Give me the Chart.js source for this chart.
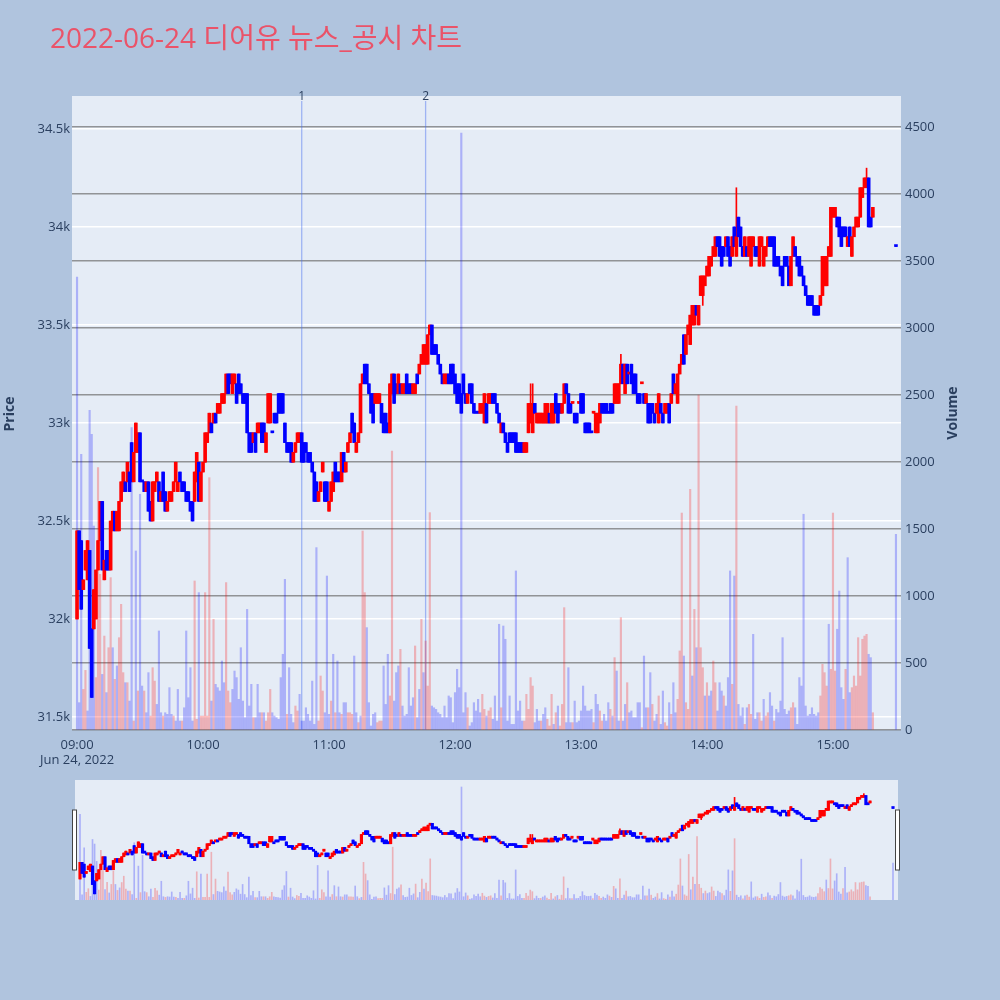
<!DOCTYPE html>
<html>
<head>
<meta charset="utf-8">
<script src="https://cdn.jsdelivr.net/npm/chart.js@4.4.0/dist/chart.umd.min.js"></script>
<style>
html, body { margin: 0; padding: 0; background: #b0c4de; }
#wrap { position: relative; width: 1000px; height: 1000px; }
#main { position: absolute; left: 0; top: 0; }
#slider { position: absolute; left: 0; top: 770px; }
</style>
</head>
<body>
<div id="wrap">
  <canvas id="main" width="1000" height="1000"></canvas>
  <canvas id="slider" width="1000" height="140"></canvas>
</div>
<script>
// 1-minute candles from 09:00, last entry is the 15:30 closing auction
const opens = [
  32000,32450,32400,32150,32250,32200,32350,31950,31950,32000,
  32250,32400,32600,32200,32350,32350,32250,32450,32550,32450,
  32450,32600,32650,32700,32700,32750,32900,32700,32850,32850,
  32950,32700,32700,32650,32700,32600,32500,32650,32700,32700,
  32600,32750,32650,32550,32600,32600,32650,32700,32650,32750,
  32700,32700,32650,32650,32600,32600,32600,32700,32800,32600,
  32750,32800,32900,32950,33000,33000,33050,33050,33050,33100,
  33100,33150,33250,33250,33150,33200,33200,33250,33200,33150,
  33150,33150,32950,32950,32900,32950,32950,32950,33000,33000,
  32850,33000,33000,32950,33050,33050,33150,33150,33150,33000,
  32900,32900,32900,32800,32850,32900,32900,32950,32900,32900,
  32850,32850,32800,32750,32700,32600,32650,32750,32700,32700,
  32550,32600,32650,32800,32750,32750,32700,32850,32750,32850,
  32900,33050,33000,32850,32900,32950,33200,33300,33300,33200,
  33150,33150,33100,33100,33100,33100,33050,33050,33000,32950,
  33150,33250,33200,33150,33200,33150,33150,33250,33200,33200,
  33150,33150,33250,33250,33300,33300,33300,33300,33450,33500,
  33400,33400,33350,33300,33250,33200,33200,33250,33300,33300,
  33250,33200,33200,33150,33250,33150,33100,33200,33200,33100,
  33050,33050,33050,33050,33000,33100,33100,33100,33150,33150,
  33100,33050,32950,33000,32950,32900,32950,32950,32950,32950,
  32900,32900,32900,32850,32850,32950,33000,32950,33100,33000,
  33000,33000,33000,33000,33000,33050,33000,33000,33150,33100,
  33100,33050,33100,33200,33150,33100,33100,33050,33050,33100,
  33150,33150,33000,33000,33000,32950,33050,32950,32950,33000,
  33100,33100,33100,33050,33100,33100,33100,33100,33100,33200,
  33300,33150,33300,33250,33300,33250,33250,33150,33150,33200,
  33150,33100,33100,33100,33100,33050,33050,33000,33100,33050,
  33050,33050,33100,33100,33250,33150,33100,33250,33300,33450,
  33350,33450,33400,33500,33500,33600,33500,33650,33650,33700,
  33750,33750,33800,33850,33850,33950,33950,33900,33900,33900,
  33950,33900,33850,34000,33850,34050,34000,33900,33850,33900,
  33850,33800,33900,33900,33900,33800,33900,33800,33850,33900,
  33950,33950,33950,33850,33850,33800,33800,33850,33850,33800,
  33700,33850,33900,33850,33850,33800,33750,33700,33650,33650,
  33650,33600,33600,33600,33600,33650,33700,33700,33850,33850,
  34050,34050,34050,34050,34000,34000,34000,33900,34000,33850,
  33950,34000,34000,34050,34150,34200,34200,34250,34050,34050,
  33900
];
const closes = [
  32450,32150,32050,32200,32350,32400,31850,31600,32150,32250,
  32400,32600,32250,32300,32250,32250,32500,32550,32450,32550,
  32600,32700,32750,32650,32800,32650,32700,32850,33000,32950,
  32700,32700,32650,32700,32550,32500,32700,32700,32750,32600,
  32650,32600,32550,32600,32650,32650,32700,32800,32700,32700,
  32650,32650,32600,32600,32550,32500,32750,32850,32600,32750,
  32800,32950,32950,33050,32950,33050,33000,33100,33100,33150,
  33150,33250,33150,33200,33250,33250,33100,33150,33150,33100,
  33100,32950,32850,32850,32950,32850,33000,33000,32900,32900,
  32950,33150,33150,32950,33000,33000,33050,33050,33050,32900,
  32850,32850,32800,32850,32900,32950,32950,32800,32800,32850,
  32800,32800,32750,32600,32600,32650,32700,32800,32600,32600,
  32600,32700,32750,32700,32700,32700,32850,32750,32800,32900,
  32950,32950,32900,32900,32950,33200,33250,33200,33200,33150,
  33050,33000,33150,33150,33150,33000,32950,32950,32950,33200,
  33250,33100,33150,33250,33150,33200,33200,33150,33150,33150,
  33200,33200,33200,33300,33350,33400,33400,33450,33500,33350,
  33350,33350,33300,33250,33200,33250,33250,33200,33200,33200,
  33150,33100,33100,33050,33150,33100,33150,33150,33100,33050,
  33050,33050,33100,33100,33150,33000,33150,33150,33100,33100,
  33050,33000,33000,32950,32900,32850,32900,32900,32900,32850,
  32850,32850,32850,32900,32900,33100,33100,33100,33050,33050,
  33050,33050,33050,33100,33100,33000,33100,33100,33050,33000,
  33050,33100,33200,33150,33050,33050,33100,33000,33000,33100,
  33050,33050,32950,32950,32950,32950,33050,33050,33050,33100,
  33050,33050,33050,33050,33050,33050,33200,33200,33200,33300,
  33200,33300,33200,33250,33200,33150,33150,33100,33100,33200,
  33100,33150,33000,33000,33050,33000,33100,33150,33050,33000,
  33100,33100,33000,33150,33150,33200,33250,33300,33350,33300,
  33450,33500,33550,33600,33600,33550,33600,33750,33750,33750,
  33800,33850,33850,33900,33950,33900,33850,33800,33850,33950,
  33850,33800,33950,33900,33950,33950,33900,33850,33950,33850,
  33950,33950,33950,33850,33850,33950,33950,33900,33900,33950,
  33900,33900,33800,33800,33800,33750,33700,33800,33800,33700,
  33850,33950,33850,33800,33750,33750,33700,33650,33600,33600,
  33600,33550,33550,33550,33650,33850,33850,33850,33900,34100,
  34100,34100,34000,33950,33900,33950,33950,33950,33900,33950,
  34000,34050,34050,34200,34200,34250,34250,34000,34000,34100,
  33900
];
// wicks that stick out of the body (index -> price)
const wickHighs = { 216: 33200, 217: 33200, 259: 33350, 314: 34200, 376: 34300 };
const wickLows = { 298: 33600 };

const volumes = [
  3380,204,2057,303,445,142,2386,2206,1522,391,
  1958,1162,415,701,279,614,1137,614,378,478,
  689,938,428,353,353,216,2256,67,1336,291,
  1759,328,291,129,428,104,465,365,191,739,
  129,104,129,117,316,117,104,67,303,67,
  67,166,739,241,465,67,1112,80,1025,104,
  104,1025,104,1883,216,826,341,316,291,515,
  353,1100,291,204,303,440,391,229,614,216,
  92,900,179,341,92,92,341,129,129,129,
  67,129,303,129,104,92,80,391,565,1124,
  117,465,117,55,179,142,266,67,67,166,
  117,67,365,42,1361,67,403,291,129,1149,
  117,216,565,129,515,129,117,204,204,129,
  129,117,552,129,55,104,1485,1025,764,204,
  30,117,129,55,67,67,478,191,565,254,
  2082,216,428,478,602,179,104,117,465,179,
  241,627,92,303,826,428,664,328,1622,179,
  166,154,129,117,92,179,92,254,241,55,
  279,453,316,4455,129,279,166,30,55,204,
  142,229,129,266,154,104,142,166,80,254,
  67,789,166,776,677,67,254,42,42,1187,
  142,216,67,67,266,154,391,328,55,154,
  67,67,117,166,80,30,266,42,129,179,
  30,191,913,55,465,55,55,216,55,67,
  142,328,179,142,142,154,55,266,191,142,
  67,117,67,204,154,104,540,440,67,838,
  67,191,353,129,142,92,92,204,204,17,
  552,166,166,428,191,67,117,254,42,291,
  55,30,204,117,353,129,229,590,1619,552,
  204,154,1796,403,900,614,2500,614,465,254,
  353,254,291,515,353,142,353,291,254,179,
  391,1187,341,1149,2418,191,104,166,42,166,
  191,117,714,80,129,129,67,229,104,129,
  279,179,67,154,129,216,689,154,117,142,
  166,204,166,42,391,328,1610,179,104,117,
  166,117,104,129,254,490,428,328,789,453,
  1619,440,752,1037,316,229,453,1286,279,316,
  403,328,689,403,677,701,714,565,540,129,
  1460
];
// r = red bar, b = blue bar
const volumeColors =
  'bbbrrbbbbr' + 'rrbrbrrbrb' + 'rrrbrbbrbr' + 'bbrbbrrrbb' + 'brbbbbrbbb' +
  'rbbbbbrrbr' + 'rrrrbrbbbb' + 'brrrbbbbbb' + 'bbbbrbbbrb' + 'rrrbbbbbbb' +
  'rbbbrrbbbb' + 'bbbbbrrrbb' + 'brbrbbrbbr' + 'rrbbrbrrbb' + 'bbbrrrbbbr' +
  'rbbbrbbbbb' + 'brbbrbrrrb' + 'bbbbbbbbbb' + 'bbbbbbrbbb' + 'bbbrrbrrbb' +
  'bbrbbbbbbb' + 'bbbrrrrrbb' + 'brbbrrrbrb' + 'rrrbbbrbbb' + 'bbbbbbrbbr' +
  'rbbbrbrbbr' + 'bbrbbbbbbr' + 'bbrbrbbrbb' + 'rrbrbbrrrb' + 'rrrbrbrrrb' +
  'rbbrrbbbrb' + 'bbrbrbbbrb' + 'rrbbbrrbrr' + 'bbrbbbbbbb' + 'rrbbbbbbbb' +
  'bbbbrrrrbr' + 'rrbbbbrbbr' + 'rrrrrrrbbr' + 'b';

// news / disclosure markers (minutes after 09:00)
const events = [{ minute: 107, label: '1' }, { minute: 166, label: '2' }];
const priceTicks = [31500, 32000, 32500, 33000, 33500, 34000, 34500];
const volumeTicks = [0, 500, 1000, 1500, 2000, 2500, 3000, 3500, 4000, 4500];
const hourTicks = [0, 60, 120, 180, 240, 300, 360];

const closingMinute = 390;
const minutes = opens.map((_, i) => i < opens.length - 1 ? i : closingMinute);

const UP = '#ff0000', DOWN = '#0000ff';
const candleColors = closes.map((c, i) => {
  if (c > opens[i]) return UP;
  if (c < opens[i]) return DOWN;
  return i > 0 && c > closes[i - 1] ? UP : DOWN;
});
const volColors = volumeColors.split('').map(ch => ch === 'r' ? 'rgba(255,0,0,0.25)' : 'rgba(0,0,255,0.25)');

const highOf = i => wickHighs[i] !== undefined ? wickHighs[i] : Math.max(opens[i], closes[i]);
const lowOf = i => wickLows[i] !== undefined ? wickLows[i] : Math.min(opens[i], closes[i]);

const X_MIN = -2.4, X_MAX = 392.4;
const PRICE_MIN = 31434, PRICE_MAX = 34668;
const VOL_MAX = 4731;

function makeDatasets(bodyW, wickW, volW) {
  return [
    {
      yAxisID: 'y',
      data: minutes.map((m, i) => ({ x: m, y: [lowOf(i), highOf(i)] })),
      backgroundColor: candleColors,
      barThickness: wickW,
      minBarLength: 1,
      grouped: false,
      order: 2
    },
    {
      yAxisID: 'y',
      data: minutes.map((m, i) => ({ x: m, y: [opens[i], closes[i]] })),
      backgroundColor: candleColors,
      barThickness: bodyW,
      minBarLength: 2,
      grouped: false,
      order: 1
    },
    {
      yAxisID: 'y2',
      data: minutes.map((m, i) => ({ x: m, y: volumes[i] })),
      backgroundColor: volColors,
      barThickness: volW,
      grouped: false,
      order: 3
    }
  ];
}

const plotBg = {
  id: 'plotBg',
  beforeDraw(chart) {
    const { ctx, chartArea: a } = chart;
    ctx.save();
    ctx.fillStyle = '#e5ecf6';
    ctx.fillRect(a.left, a.top, a.right - a.left, a.bottom - a.top);
    ctx.restore();
  }
};

const eventLines = {
  id: 'eventLines',
  beforeDatasetsDraw(chart) {
    const { ctx, chartArea: a, scales } = chart;
    ctx.save();
    ctx.strokeStyle = 'rgba(70,110,240,0.45)';
    ctx.lineWidth = 1.3;
    events.forEach(ev => {
      const x = scales.x.getPixelForValue(ev.minute);
      ctx.beginPath();
      ctx.moveTo(x, a.top + 5);
      ctx.lineTo(x, a.bottom);
      ctx.stroke();
    });
    ctx.restore();
  },
  afterDraw(chart) {
    const { ctx, chartArea: a, scales } = chart;
    ctx.save();
    ctx.fillStyle = '#2a3f5f';
    ctx.font = '12px "Open Sans", sans-serif';
    ctx.textAlign = 'center';
    ctx.textBaseline = 'middle';
    events.forEach(ev => {
      ctx.fillText(ev.label, scales.x.getPixelForValue(ev.minute), a.top + 1);
    });

    // chart title
    ctx.textAlign = 'left';
    ctx.fillStyle = '#ea5369';
    ctx.font = '28px "Open Sans", "Noto Sans CJK KR", sans-serif';
    ctx.fillText('2022-06-24 디어유 뉴스_공시 차트', 50, 40);

    // axis titles
    ctx.fillStyle = '#2a3f5f';
    ctx.font = 'bold 14px "Open Sans", sans-serif';
    ctx.textAlign = 'center';
    ctx.save();
    ctx.translate(10, 414);
    ctx.rotate(-Math.PI / 2);
    ctx.fillText('Price', 0, 0);
    ctx.restore();
    ctx.save();
    ctx.translate(953, 413);
    ctx.rotate(-Math.PI / 2);
    ctx.fillText('Volume', 0, 0);
    ctx.restore();
    ctx.restore();
  }
};

const tickFont = { family: '"Open Sans", sans-serif', size: 13 };
const hhmm = v => String(9 + Math.floor(v / 60)).padStart(2, '0') + ':' + String(v % 60).padStart(2, '0');

new Chart(document.getElementById('main'), {
  type: 'bar',
  data: { datasets: makeDatasets(3, 1, 1.5) },
  options: {
    responsive: false,
    animation: false,
    devicePixelRatio: 1,
    layout: { padding: { left: 0, right: 0, top: 96, bottom: 230 } },
    plugins: { legend: { display: false }, tooltip: { enabled: false } },
    scales: {
      x: {
        type: 'linear',
        offset: false,
        min: X_MIN,
        max: X_MAX,
        grid: { display: false, drawTicks: false, offset: false },
        border: { display: false },
        afterBuildTicks: s => { s.ticks = hourTicks.map(v => ({ value: v })); },
        ticks: {
          autoSkip: false,
          maxRotation: 0,
          padding: 7,
          color: '#2a3f5f',
          font: tickFont,
          callback: v => v === 0 ? ['09:00', 'Jun 24, 2022'] : hhmm(v)
        },
        afterFit: s => { s.height = 40; }
      },
      y: {
        position: 'left',
        min: PRICE_MIN,
        max: PRICE_MAX,
        grid: { color: '#ffffff', lineWidth: 1.5, drawTicks: false },
        border: { display: false },
        afterBuildTicks: s => { s.ticks = priceTicks.map(v => ({ value: v })); },
        ticks: {
          padding: 2,
          color: '#2a3f5f',
          font: tickFont,
          callback: v => (v / 1000) + 'k'
        },
        afterFit: s => { s.width = 72; }
      },
      y2: {
        position: 'right',
        min: 0,
        max: VOL_MAX,
        grid: { color: 'rgba(110,110,110,0.7)', lineWidth: 1.5, drawTicks: false },
        border: { display: false },
        afterBuildTicks: s => { s.ticks = volumeTicks.map(v => ({ value: v })); },
        ticks: {
          padding: 4,
          color: '#2a3f5f',
          font: tickFont,
          callback: v => String(v)
        },
        afterFit: s => { s.width = 99; }
      }
    }
  },
  plugins: [plotBg, eventLines]
});

// range slider below the main chart
const grabbers = {
  id: 'grabbers',
  afterDraw(chart) {
    const { ctx, chartArea: a } = chart;
    ctx.save();
    ctx.fillStyle = '#ffffff';
    ctx.strokeStyle = '#444444';
    ctx.lineWidth = 1;
    [a.left - 2, a.right - 2].forEach(x => {
      ctx.fillRect(x - 0.5, a.top + 30, 4, 60);
      ctx.strokeRect(x - 0.5, a.top + 30, 4, 60);
    });
    ctx.restore();
  }
};

new Chart(document.getElementById('slider'), {
  type: 'bar',
  data: { datasets: makeDatasets(2.5, 1, 1) },
  options: {
    responsive: false,
    animation: false,
    devicePixelRatio: 1,
    layout: { padding: { left: 75, right: 102, top: 10, bottom: 10 } },
    plugins: { legend: { display: false }, tooltip: { enabled: false } },
    scales: {
      x: { type: 'linear', display: false, offset: false, min: X_MIN, max: X_MAX },
      y: { display: false, min: PRICE_MIN, max: PRICE_MAX },
      y2: { display: false, min: 0, max: VOL_MAX }
    }
  },
  plugins: [plotBg, grabbers]
});
</script>
</body>
</html>
